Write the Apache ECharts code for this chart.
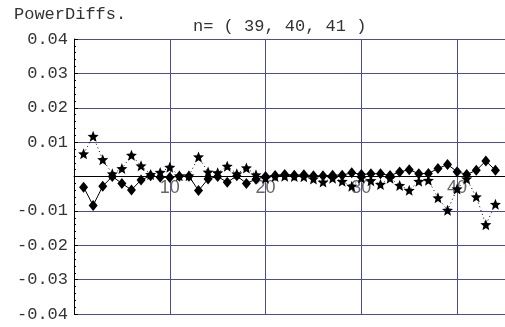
<!DOCTYPE html>
<html><head><meta charset="utf-8">
<script src="https://cdn.jsdelivr.net/npm/echarts@6/dist/echarts.min.js"></script>
<style>html,body{margin:0;padding:0;background:#fff}#c{width:505px;height:327px}</style>
</head><body><div id="c"></div>
<script>
const xs = [1,2,3,4,5,6,7,8,9,10,11,12,13,14,15,16,17,18,19,20,21,22,23,24,25,26,27,28,29,30,31,32,33,34,35,36,37,38,39,40,41,42,43,44];
const diamondVals = [-0.0031,-0.0084,-0.0028,0.0000,-0.0020,-0.0039,-0.0010,0.0002,-0.0002,-0.0003,0.0001,0.0001,-0.0041,-0.0007,0.0000,-0.0017,0.0002,-0.0020,-0.0008,0.0000,0.0003,0.0006,0.0004,0.0005,0.0002,0.0002,0.0004,0.0004,0.0011,0.0006,0.0008,0.0008,0.0003,0.0013,0.0020,0.0008,0.0009,0.0023,0.0035,0.0014,0.0006,0.0018,0.0045,0.0018];
const starVals = [0.0066,0.0117,0.0049,0.0008,0.0023,0.0062,0.0031,0.0006,0.0012,0.0027,0.0002,0.0002,0.0057,0.0013,0.0011,0.0030,0.0008,0.0025,0.0005,-0.0005,0.0000,0.0001,0.0000,-0.0001,-0.0007,-0.0016,-0.0005,-0.0014,-0.0028,-0.0004,-0.0012,-0.0023,-0.0005,-0.0026,-0.0040,-0.0014,-0.0011,-0.0062,-0.0098,-0.0036,-0.0007,-0.0059,-0.0140,-0.0081];
const titleText = 'PowerDiffs.';
const subText = 'n= ( 39, 40, 41 )';

const starPath = 'path://M0,-10L2.6,-3.6L9.51,-3.09L4.2,1.4L5.88,8.09L0,4.4L-5.88,8.09L-4.2,1.4L-9.51,-3.09L-2.6,-3.6Z';
const mono = '"Liberation Mono", "DejaVu Sans Mono", monospace';
const chart = echarts.init(document.getElementById('c'), null, {renderer:'canvas'});
chart.setOption({
  animation:false,
  backgroundColor:'#fff',
  title:[
    {text:titleText, left:9, top:1, textStyle:{fontFamily:mono, fontSize:17, fontWeight:'normal', color:'#333'}},
    {text:subText, left:188, top:13, textStyle:{fontFamily:mono, fontSize:17, fontWeight:'normal', color:'#333'}}
  ],
  grid:{left:74, right:0, top:39, bottom:13, outerBoundsMode:'none', containLabel:false},
  xAxis:{
    type:'value', min:0, max:45, interval:10, position:'bottom', offset:-137.5,
    axisLine:{onZero:false, lineStyle:{color:'#000', width:1}},
    axisTick:{show:false},
    axisLabel:{color:'#666', fontFamily:'"Liberation Sans", Arial, sans-serif', fontSize:18, margin:3,
      formatter:v => ((v===0 || v%10!==0) ? '' : String(v))},
    splitLine:{show:true, showMinLine:false, showMaxLine:false, lineStyle:{color:'#4b4ba0', width:1}}
  },
  yAxis:{
    type:'value', min:-0.04, max:0.04, interval:0.01,
    axisLine:{show:true, onZero:false, lineStyle:{color:'#000', width:1}},
    axisTick:{show:true, inside:true, length:4, lineStyle:{color:'#000'}},
    minorTick:{show:true, splitNumber:5, length:2, lineStyle:{color:'#000'}},
    axisLabel:{color:'#333', fontFamily:mono, fontSize:17, margin:6,
      formatter:v => (Math.abs(v)<1e-9 ? '' : v.toFixed(2))},
    splitLine:{show:true, lineStyle:{color:'#4b4ba0', width:1}}
  },
  series:[
    {type:'line', data:xs.map((x,i)=>[x,starVals[i]]), symbol:starPath, symbolSize:11,
      itemStyle:{color:'#000'}, lineStyle:{color:'#000', width:1, type:[1,3]}, z:3},
    {type:'line', data:xs.map((x,i)=>[x,diamondVals[i]]), symbol:'diamond', symbolSize:[9,11],
      itemStyle:{color:'#000'}, lineStyle:{color:'#000', width:1}, z:4}
  ]
});
</script></body></html>
